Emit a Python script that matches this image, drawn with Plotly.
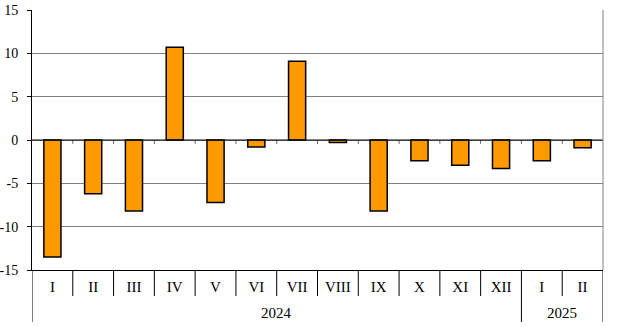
import plotly.graph_objects as go

months = ["I", "II", "III", "IV", "V", "VI", "VII", "VIII", "IX", "X", "XI", "XII", "I", "II"]
values = [-13.5, -6.2, -8.2, 10.7, -7.2, -0.8, 9.1, -0.3, -8.2, -2.4, -2.9, -3.3, -2.4, -0.9]
years = ["2024", "2025"]
year_counts = [12, 2]
y_ticks = [-15, -10, -5, 0, 5, 10, 15]
y_ticktext = ["-15", "-10", "-5", "0", "5", "10", "15"]

x = list(range(len(months)))
font = "Liberation Serif"

fig = go.Figure()
fig.add_trace(go.Bar(
    x=x, y=values, width=0.42,
    marker=dict(color="#FF9900", line=dict(color="#000000", width=1.5)),
    hoverinfo="skip",
))

shapes = []
n = len(months)
# category dividers below the axis
for k in range(n + 1):
    xb = k - 0.5
    shapes.append(dict(type="line", xref="x", yref="paper", x0=xb, x1=xb,
                       y0=0, y1=-0.1, line=dict(color="#000000", width=1)))
# group dividers, extended further
bounds = [0]
for c in year_counts:
    bounds.append(bounds[-1] + c)
for b in bounds:
    shapes.append(dict(type="line", xref="x", yref="paper", x0=b - 0.5, x1=b - 0.5,
                       y0=-0.1, y1=-0.2, line=dict(color="#000000", width=1)))
# small ticks at zero line
for k in range(1, n):
    xb = k - 0.5
    shapes.append(dict(type="line", xref="x", yref="y", x0=xb, x1=xb,
                       y0=0, y1=-0.45, line=dict(color="#666666", width=1)))
# zero line
shapes.append(dict(type="line", xref="paper", yref="y", x0=0, x1=1, y0=0, y1=0,
                   line=dict(color="#000000", width=1)))
# right border
shapes.append(dict(type="line", xref="paper", yref="paper", x0=1, x1=1, y0=0, y1=1,
                   line=dict(color="#808080", width=1)))

annotations = []
start = 0
for yr, c in zip(years, year_counts):
    mid = start + (c - 1) / 2
    annotations.append(dict(x=mid, y=-0.165, xref="x", yref="paper", text=yr,
                            showarrow=False, yanchor="middle",
                            font=dict(family=font, size=15, color="#000000")))
    start += c

fig.update_layout(
    width=620, height=327,
    margin=dict(l=32, r=17, t=10, b=57, autoexpand=False),
    paper_bgcolor="white", plot_bgcolor="white",
    showlegend=False,
    shapes=shapes, annotations=annotations,
    xaxis=dict(range=[-0.5, n - 0.5], tickvals=x, ticktext=months, automargin=False,
               showgrid=False, zeroline=False, showline=True, linecolor="#000000",
               linewidth=1, ticks="", ticklabelstandoff=3,
               tickfont=dict(family=font, size=15, color="#000000")),
    yaxis=dict(range=[-15, 15], tickvals=y_ticks, ticktext=y_ticktext, automargin=False,
               showgrid=True, gridcolor="#808080", gridwidth=1, zeroline=False,
               showline=True, linecolor="#000000", linewidth=1,
               ticks="outside", ticklen=4, tickcolor="#000000", ticklabelstandoff=6,
               tickfont=dict(family=font, size=14, color="#000000")),
)

fig.write_html("out.html")
